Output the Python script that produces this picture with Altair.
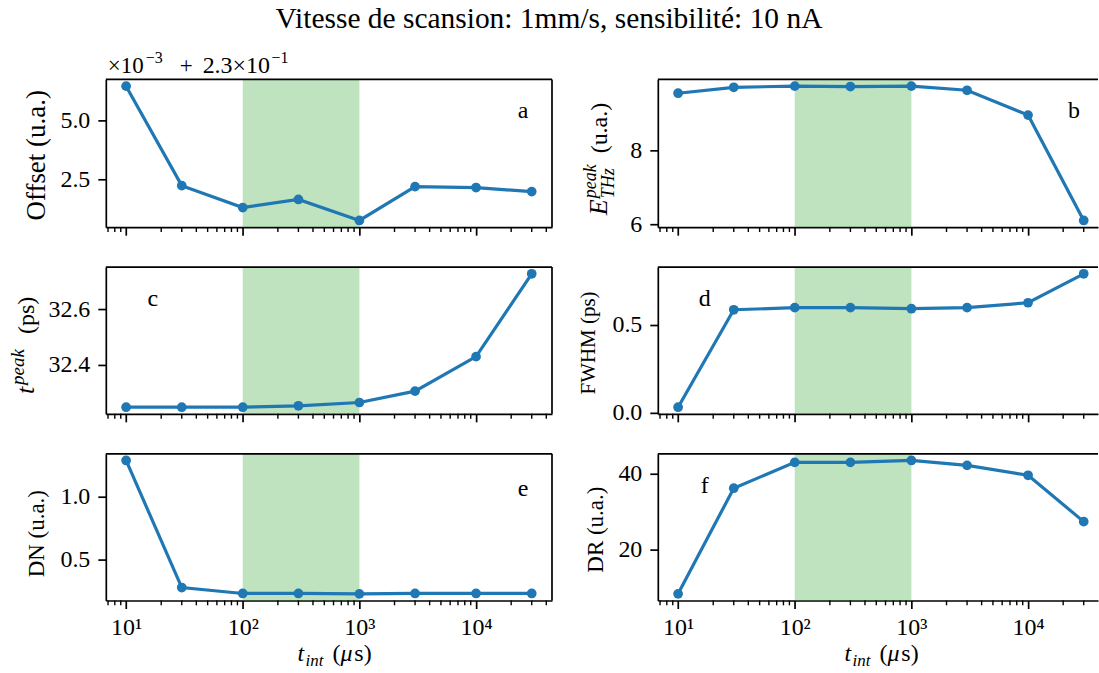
import altair as alt
import pandas as pd

# ---------------- data ----------------
t_int = [10, 30, 100, 300, 1000, 3000, 10000, 30000]          # µs
offset_e3 = [6.42, 2.25, 1.33, 1.67, 0.79, 2.21, 2.17, 2.00]  # (Offset - 0.23) x 1e3
e_peak = [9.54, 9.70, 9.73, 9.72, 9.73, 9.62, 8.95, 6.11]
t_peak = [32.246, 32.246, 32.246, 32.251, 32.263, 32.304, 32.429, 32.729]
fwhm = [0.03, 0.585, 0.597, 0.597, 0.591, 0.597, 0.625, 0.79]
dn = [1.289, 0.281, 0.234, 0.234, 0.231, 0.234, 0.234, 0.234]
dr = [8.3, 36.1, 42.9, 42.9, 43.4, 42.1, 39.5, 27.3]

band_lo, band_hi = 100, 1000
major_x = [10, 100, 1000, 10000]
major_x_labels = ["10¹", "10²", "10³", "10⁴"]
minor_mult = [2, 3, 4, 5, 6, 7, 8, 9]

title_text = "Vitesse de scansion: 1mm/s, sensibilité: 10 nA"

FONT = "Liberation Serif"
BLUE = "#1f77b4"
GREEN = "#2ca02c"

W_L, W_R = 447, 441
H_TOP, H = 148, 147
LOG_MIN = 0.826
LOG_MAX_L = 4.651
LOG_MAX_R = LOG_MIN + W_R * (LOG_MAX_L - LOG_MIN) / W_L

SPINE = 1.7
one = pd.DataFrame({"k": [0]})


def txt(s, x, y, size=24, angle=0, align="left", baseline="alphabetic", style="normal"):
    return alt.Chart(one).mark_text(
        text=s, font=FONT, fontSize=size, fontStyle=style, angle=angle,
        align=align, baseline=baseline, color="black"
    ).encode(x=alt.value(x), y=alt.value(y))


def margins(vals):
    lo, hi = min(vals), max(vals)
    s = hi - lo
    return [lo - 0.05 * s, hi + 0.05 * s]


def panel(vals, yticks, yfmt, W, Hh, log_max, bottom, left_col, extras):
    xdom = [10 ** LOG_MIN, 10 ** log_max]
    xscale = alt.Scale(type="log", domain=xdom, nice=False)
    yscale = alt.Scale(domain=margins(vals), nice=False, zero=False)
    label_expr = " : ".join(
        f"datum.value == {v} ? '{l}'" for v, l in zip(major_x, major_x_labels)
    ) + " : ''"
    xaxis = alt.Axis(
        values=major_x, labels=bottom, labelExpr=label_expr, tickSize=8, tickWidth=SPINE,
        tickColor="black", domainColor="black", domainWidth=SPINE, grid=False, title=None,
        labelFont=FONT, labelFontSize=24, labelColor="black", labelPadding=7,
        labelFlush=False, labelBound=False, labelOverlap=False,
    )
    yaxis = alt.Axis(
        values=yticks, format=yfmt, tickSize=8, tickWidth=SPINE, tickColor="black",
        domainColor="black", domainWidth=SPINE, grid=False, title=None,
        labelFont=FONT, labelFontSize=24, labelColor="black", labelPadding=8,
        labelFlush=False, labelBound=False, labelOverlap=False,
    )
    df = pd.DataFrame({"t": t_int, "v": vals})
    band = alt.Chart(pd.DataFrame({"a": [band_lo], "b": [band_hi]})).mark_rect(
        color=GREEN, opacity=0.3
    ).encode(
        x=alt.X("a:Q", scale=xscale, axis=xaxis), x2="b:Q",
        y=alt.value(0), y2=alt.value(Hh),
    )
    minors = [m * 10 ** k for k in range(0, 5) for m in minor_mult]
    minors = [m for m in minors if xdom[0] <= m <= xdom[1]]
    minor = alt.Chart(pd.DataFrame({"m": minors})).mark_rule(
        color="black", strokeWidth=1.4
    ).encode(
        x=alt.X("m:Q", scale=xscale, axis=xaxis),
        y=alt.value(Hh), y2=alt.value(Hh + 4.8),
    )
    line = alt.Chart(df).mark_line(color=BLUE, strokeWidth=3.2).encode(
        x=alt.X("t:Q", scale=xscale, axis=xaxis),
        y=alt.Y("v:Q", scale=yscale, axis=yaxis),
    )
    pts = alt.Chart(df).mark_circle(color=BLUE, size=95, opacity=1).encode(
        x=alt.X("t:Q", scale=xscale, axis=xaxis),
        y=alt.Y("v:Q", scale=yscale, axis=yaxis),
    )
    top = alt.Chart(one).mark_rule(color="black", strokeWidth=SPINE).encode(
        x=alt.value(0), x2=alt.value(W), y=alt.value(0)
    )
    layers = [band, minor, line, pts, top]
    if left_col:
        layers.append(
            alt.Chart(one).mark_rule(color="black", strokeWidth=SPINE).encode(
                x=alt.value(W), y=alt.value(0), y2=alt.value(Hh)
            )
        )
    if bottom:
        x0 = 192 if left_col else 187
        yb = Hh + 61
        layers += [
            txt("t", x0, yb, style="italic"),
            txt("int", x0 + 8, yb + 5, size=17, style="italic"),
            txt("(", x0 + 35, yb),
            txt("μ", x0 + 43, yb, style="italic"),
            txt("s)", x0 + 57, yb),
        ]
    layers += extras
    return alt.layer(*layers).properties(width=W, height=Hh)


# panel a
extras_a = [
    alt.Chart(one).mark_rule(color="white", strokeWidth=0.01).encode(
        x=alt.value(-105), x2=alt.value(-104.5), y=alt.value(-78)
    ),
    txt(title_text, 444, -61, size=29.5, align="center", baseline="middle"),
    txt("×10", 2, -6, size=23),
    txt("−3", 40, -16, size=16),
    txt("+", 74, -6, size=23),
    txt("2.3×10", 97, -6, size=24),
    txt("−1", 166, -16, size=16),
    txt("Offset (u.a.)", -69, 76, size=27, angle=270, align="center", baseline="middle"),
    txt("a", 418, 32, align="center", baseline="middle"),
]
pa = panel(offset_e3, [2.5, 5.0], ".1f", W_L, H_TOP, LOG_MAX_L, False, True, extras_a)

# panel b
extras_b = [
    txt("E", -51, 136, size=26, angle=270, style="italic"),
    txt("peak", -62, 119, size=18, angle=270, style="italic"),
    txt("THz", -44, 119, size=18, angle=270, style="italic"),
    txt("(u.a.)", -51, 74, angle=270),
    txt("b", 417, 32, align="center", baseline="middle"),
]
pb = panel(e_peak, [6, 8], "d", W_R, H_TOP, LOG_MAX_R, False, False, extras_b)

# panel c
extras_c = [
    txt("t", -72, 127, size=26, angle=270, style="italic"),
    txt("peak", -82, 118, size=19, angle=270, style="italic"),
    txt("(ps)", -72, 67, angle=270),
    txt("c", 47, 32, align="center", baseline="middle"),
]
pc = panel(t_peak, [32.4, 32.6], ".1f", W_L, H, LOG_MAX_L, False, True, extras_c)

# panel d
extras_d = [
    txt("FWHM (ps)", -69, 76, size=21, angle=270, align="center", baseline="middle"),
    txt("d", 47, 32, align="center", baseline="middle"),
]
pd_ = panel(fwhm, [0.0, 0.5], ".1f", W_R, H, LOG_MAX_R, False, False, extras_d)

# panel e
extras_e = [
    txt("DN (u.a.)", -69, 80, size=23, angle=270, align="center", baseline="middle"),
    txt("e", 418, 35, align="center", baseline="middle"),
]
pe = panel(dn, [0.5, 1.0], ".1f", W_L, H, LOG_MAX_L, True, True, extras_e)

# panel f
extras_f = [
    txt("DR (u.a.)", -62, 76, size=23, angle=270, align="center", baseline="middle"),
    txt("f", 47, 32, align="center", baseline="middle"),
]
pf = panel(dr, [20, 40], "d", W_R, H, LOG_MAX_R, True, False, extras_f)

chart = alt.concat(
    pa, pb, pc, pd_, pe, pf, columns=2,
    spacing={"row": 40, "column": 106}, bounds="flush",
).properties(padding=0, background="white").configure_view(stroke=None)

chart.save("out.html", embed_options={"renderer": "svg", "actions": False})
